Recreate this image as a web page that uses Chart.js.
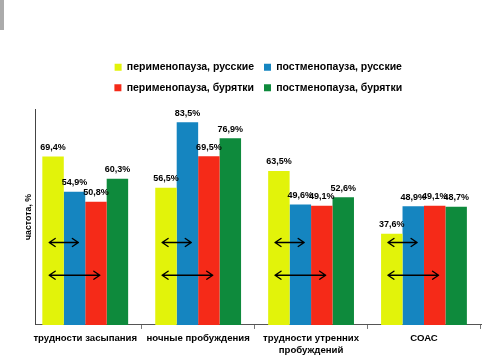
<!DOCTYPE html>
<html>
<head>
<meta charset="utf-8">
<script src="https://cdn.jsdelivr.net/npm/chart.js@4.4.1/dist/chart.umd.min.js"></script>
<style>
  html, body { margin: 0; padding: 0; background: #fff; }
  #wrap { position: relative; width: 491px; height: 360px; }
  #mark { position: absolute; left: 0; top: 0; width: 4px; height: 30px; background: #ababab; }
</style>
</head>
<body>
<div id="wrap">
  <canvas id="c" width="491" height="360"></canvas>
  <div id="mark"></div>
</div>
<script>
// ---- data ----
const categories = [
  'трудности засыпания',
  'ночные пробуждения',
  ['трудности утренних', 'пробуждений'],
  'СОАС'
];
const seriesNames = [
  'перименопауза, русские',
  'постменопауза, русские',
  'перименопауза, бурятки',
  'постменопауза, бурятки'
];
const periRus  = [69.4, 56.5, 63.5, 37.6];
const postRus  = [54.9, 83.5, 49.6, 48.9];
const periBur  = [50.8, 69.5, 49.1, 49.1];
const postBur  = [60.3, 76.9, 52.6, 48.7];
const seriesColors = ['#E2F30A', '#1585C0', '#F52A18', '#0E8A3C'];
const yMax = 89;
// comparison arrows: between series indexes, drawn at a value level
const arrowLinks = [
  { from: 0, to: 1, level: 34 },
  { from: 0, to: 2, level: 20.5 }
];

const seriesValues = [periRus, postRus, periBur, postBur];
const FONT = "'Liberation Sans', Arial, sans-serif";

const legendRows = {
  id: 'legendRows',
  afterInit(chart) {
    const lg = chart.legend;
    if (!lg) return;
    const orig = lg._fitRows;
    lg._fitRows = function (...args) {
      const full = this.maxWidth;
      this.maxWidth = Math.min(full, 360);
      const h = orig.apply(this, args);
      this.maxWidth = full;
      return h + 6;
    };
  }
};

const valueLabels = {
  id: 'valueLabels',
  afterDatasetsDraw(chart) {
    const ctx = chart.ctx;
    ctx.save();
    ctx.font = "bold 9px " + FONT;
    ctx.fillStyle = '#000';
    ctx.textAlign = 'center';
    ctx.textBaseline = 'middle';
    chart.data.datasets.forEach((ds, di) => {
      const meta = chart.getDatasetMeta(di);
      meta.data.forEach((bar, i) => {
        const txt = ds.data[i].toFixed(1).replace('.', ',') + '%';
        ctx.fillText(txt, bar.x, bar.y - 9);
      });
    });
    ctx.restore();
  }
};

const arrows = {
  id: 'arrows',
  afterDatasetsDraw(chart) {
    const ctx = chart.ctx;
    const y = chart.scales.y;
    ctx.save();
    ctx.strokeStyle = '#000';
    ctx.lineWidth = 1.4;
    ctx.lineCap = 'round';
    ctx.lineJoin = 'round';
    categories.forEach((_, i) => {
      arrowLinks.forEach(link => {
        const a = chart.getDatasetMeta(link.from).data[i];
        const b = chart.getDatasetMeta(link.to).data[i];
        const over = a.width * 0.18;
        const x0 = a.x - over, x1 = b.x + over;
        const py = y.getPixelForValue(link.level);
        const h = 6, v = 4;
        ctx.beginPath();
        ctx.moveTo(x0, py); ctx.lineTo(x1, py);
        ctx.moveTo(x0 + h, py - v); ctx.lineTo(x0, py); ctx.lineTo(x0 + h, py + v);
        ctx.moveTo(x1 - h, py - v); ctx.lineTo(x1, py); ctx.lineTo(x1 - h, py + v);
        ctx.stroke();
      });
    });
    ctx.restore();
  }
};

// category axis domain (in category units), slightly asymmetric like the original
const xDomainStart = -0.44, xDomainEnd = 3.505;

new Chart(document.getElementById('c'), {
  type: 'bar',
  data: {
    labels: categories,
    datasets: seriesNames.map((name, k) => ({
      label: name,
      data: seriesValues[k],
      backgroundColor: seriesColors[k],
      borderWidth: 0,
      categoryPercentage: 0.76,
      barPercentage: 1.0
    }))
  },
  options: {
    responsive: false,
    animation: false,
    devicePixelRatio: 1,
    layout: { padding: { left: 19, right: 10, top: 52, bottom: 0 } },
    plugins: {
      tooltip: { enabled: false },
      legend: {
        position: 'top',
        fullSize: false,
        labels: {
          boxWidth: 7,
          boxHeight: 7,
          padding: 10,
          color: '#000',
          font: { family: FONT, size: 10.5, weight: 'bold' }
        }
      }
    },
    scales: {
      x: {
        afterBuildTicks(scale) {
          scale._startValue = xDomainStart;
          scale._valueRange = xDomainEnd - xDomainStart;
        },
        grid: { display: true, drawOnChartArea: false, drawTicks: true, tickLength: 4, color: '#777', offset: true },
        border: { display: true, color: '#555', width: 1 },
        ticks: { color: '#000', padding: 4, maxRotation: 0, autoSkip: false, font: { family: FONT, size: 9.6, weight: 'bold' } }
      },
      y: {
        min: 0,
        max: yMax,
        grid: { display: false, drawTicks: false },
        border: { display: true, color: '#444', width: 1 },
        ticks: { display: false },
        title: {
          display: true,
          text: 'частота, %',
          color: '#000',
          padding: { top: 4, bottom: 2 },
          font: { family: FONT, size: 8.8, weight: 'bold' }
        }
      }
    }
  },
  plugins: [legendRows, valueLabels, arrows]
});
</script>
</body>
</html>
